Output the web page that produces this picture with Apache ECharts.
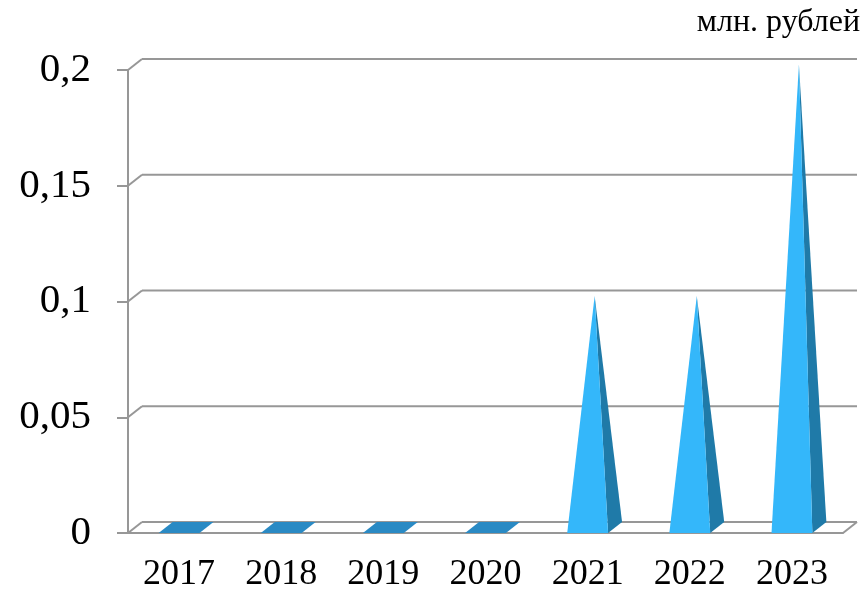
<!DOCTYPE html>
<html>
<head>
<meta charset="utf-8">
<script src="https://cdn.jsdelivr.net/npm/echarts@6/dist/echarts.min.js"></script>
<style>
  html, body { margin: 0; padding: 0; background: #fff; }
  #main { width: 864px; height: 593px; }
</style>
</head>
<body>
<div id="main"></div>
<script>
const years = ["2017", "2018", "2019", "2020", "2021", "2022", "2023"];
const values = [0, 0, 0, 0, 0.1, 0.1, 0.2];
const yTicks = [0, 0.05, 0.1, 0.15, 0.2];
const unitLabel = "млн. рублей";

// depth of the 3d box (px)
const DX = 14;
const DY = -11;
const lineColor = "#979797";
const serif = "'Liberation Serif', 'Times New Roman', serif";

function wallItem(params, api) {
  const cs = params.coordSys;
  const v = yTicks[params.dataIndex];
  const y = api.coord([0, v])[1];
  const x0 = cs.x;
  const x1 = cs.x + cs.width;
  const style = { stroke: lineColor, lineWidth: 2 };
  const children = [
    { type: "line", shape: { x1: x0, y1: y, x2: x0 + DX, y2: y + DY }, style },
    { type: "line", shape: { x1: x0 + DX, y1: y + DY, x2: x1 + DX, y2: y + DY }, style },
  ];
  if (v === 0) {
    children.push({ type: "line", shape: { x1: x1, y1: y, x2: x1 + DX, y2: y + DY }, style });
  }
  return { type: "group", children };
}

function pyramidItem(params, api) {
  const idx = params.dataIndex;
  const v = api.value(1);
  const base = api.coord([idx, 0]);
  const top = api.coord([idx, v]);
  const hw = api.size([1, 0])[0] * 0.2;
  const cx = base[0];
  const y0 = base[1];
  const fl = [cx - hw, y0];
  const fr = [cx + hw, y0];
  const br = [cx + hw + DX, y0 + DY];
  const bl = [cx - hw + DX, y0 + DY];
  if (v === 0) {
    return {
      type: "polygon",
      shape: { points: [fl, fr, br, bl] },
      style: { fill: "#2a8ac4" },
    };
  }
  const apex = [cx + DX / 2, top[1] + DY / 2];
  return {
    type: "group",
    children: [
      { type: "polygon", shape: { points: [fr, br, apex] }, style: { fill: "#1f7aa8" } },
      { type: "polygon", shape: { points: [fl, fr, apex] }, style: { fill: "#34b7fa" } },
    ],
  };
}

const chart = echarts.init(document.getElementById("main"));
chart.setOption({
  animation: false,
  backgroundColor: "#fff",
  grid: { left: 128, right: 21, top: 70, bottom: 58 },
  xAxis: {
    type: "category",
    data: years,
    axisLine: { lineStyle: { color: lineColor, width: 2 } },
    axisTick: { length: 10, lineStyle: { color: lineColor, width: 2 } },
    axisLabel: { color: "#000", fontFamily: serif, fontSize: 36, margin: 24 },
  },
  yAxis: {
    type: "value",
    min: 0,
    max: 0.2,
    interval: 0.05,
    axisLine: { show: true, lineStyle: { color: lineColor, width: 2 } },
    axisTick: { show: true, length: 11, lineStyle: { color: lineColor, width: 2 } },
    splitLine: { show: false },
    axisLabel: {
      color: "#000",
      fontFamily: serif,
      fontSize: 41,
      margin: 37,
      formatter: (v) => String(v).replace(".", ","),
    },
  },
  graphic: [
    {
      type: "text",
      right: 4,
      top: 7,
      style: { text: unitLabel, fill: "#000", font: "32px " + serif },
    },
  ],
  series: [
    {
      type: "custom",
      renderItem: wallItem,
      data: yTicks.map((v) => [0, v]),
      silent: true,
      z: 1,
    },
    {
      type: "custom",
      renderItem: pyramidItem,
      data: values.map((v, i) => [i, v]),
      z: 2,
    },
  ],
});
</script>
</body>
</html>
